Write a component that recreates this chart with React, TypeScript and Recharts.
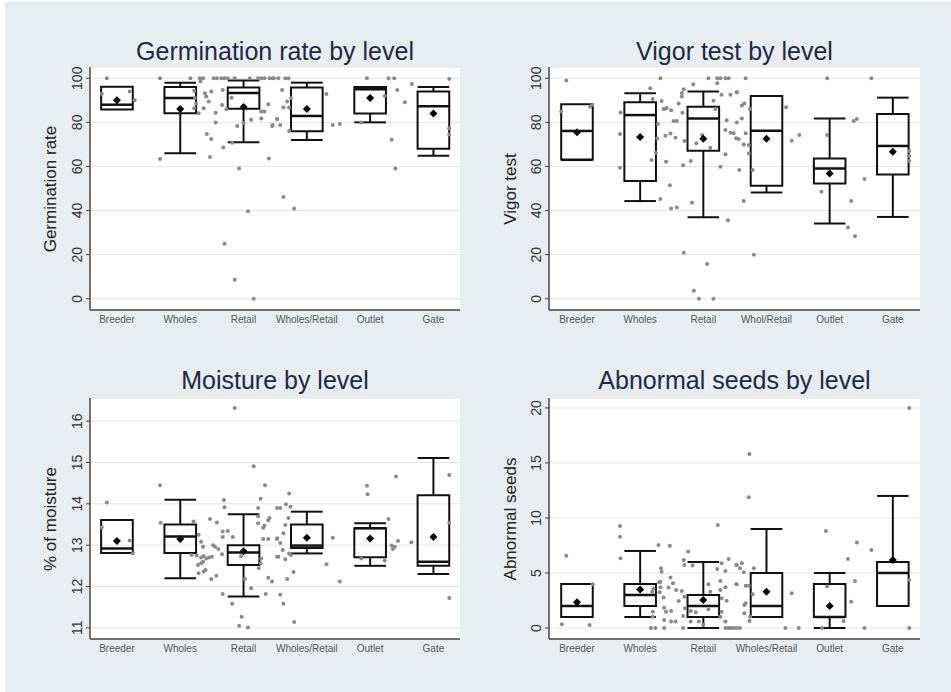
import React from 'react';
import { ComposedChart, Scatter, XAxis, YAxis, CartesianGrid, ReferenceArea, ReferenceLine } from 'recharts';

// category labels
const levels = ['Breeder', 'Wholes', 'Retail', 'Wholes/Retail', 'Outlet', 'Gate'];
const levelsVigor = ['Breeder', 'Wholes', 'Retail', 'Whol/Retail', 'Outlet', 'Gate'];

// Germination rate: box stats per level
const germLo = [85.8, 66, 71, 72, 80, 64.8];
const germQ1 = [85.8, 84.1, 86.2, 76, 84, 68];
const germMed = [88, 91, 93.3, 82.9, 95, 87.3];
const germQ3 = [96.1, 96, 95.8, 95.8, 96, 94];
const germHi = [96.1, 98, 99, 98, 96, 96];
const germMean = [90, 86, 87, 86, 91, 84];
// jittered observations [level position, value]
const germPoints = [
  [0.84, 100], [0.76, 93], [1.28, 90], [1.2, 94],
  [1.68, 100], [1.68, 63.4], [2.16, 100], [2.31, 100], [2.36, 100], [2.22, 94.3], [2.23, 91], [2.25, 88.5],
  [2.22, 86.4], [2.32, 98.5], [2.39, 93.2], [2.41, 91.7], [2.45, 89.4], [2.49, 94], [2.37, 86.4], [2.29, 84.1],
  [2.56, 84.4], [2.56, 79.9], [2.42, 74.7], [2.49, 72.4], [2.47, 64.3],
  [2.53, 100], [2.58, 100], [2.65, 100], [2.7, 100], [2.75, 100], [2.86, 100], [3.1, 100], [3.23, 100],
  [3.28, 100], [3.33, 100], [3.41, 100], [3.46, 100],
  [2.67, 94.7], [2.66, 87.9], [2.73, 85.9], [2.81, 91.1], [2.9, 78.4], [3.0, 79.6], [3.12, 81.2], [3.28, 84.9],
  [3.33, 84.9], [3.28, 81.8], [3.39, 88.2], [3.45, 78.4], [3.53, 81.5], [2.68, 68.6], [2.82, 70.8], [2.93, 59.1],
  [3.07, 39.7], [2.7, 25], [2.86, 8.6], [3.16, 0], [3.4, 63.6],
  [3.48, 100], [3.55, 100], [3.66, 100], [3.71, 100], [3.61, 94.7], [3.69, 89.4], [3.63, 86.7], [3.72, 86.7],
  [3.53, 81.4], [3.58, 78.8], [3.46, 78.8], [3.75, 91], [3.72, 76.1], [4.31, 92.9], [4.41, 78.8], [4.52, 79.3],
  [3.63, 46.2], [3.8, 40.9],
  [4.95, 100], [5.29, 100], [5.38, 100], [4.86, 79.9], [5.23, 92], [5.43, 94.7], [5.66, 97.4], [5.55, 89.1],
  [5.34, 72.1], [5.4, 59.1],
  [6.25, 99.7], [6.25, 77.3], [6.25, 74.5],
];

// Vigor test
const vigorLo = [62.9, 44.3, 37, 48.2, 34.1, 37.1];
const vigorQ1 = [63.2, 53.4, 67.1, 51.2, 52.3, 56.4];
const vigorMed = [76.1, 83.3, 81.8, 76.2, 59.1, 69.3];
const vigorQ3 = [88.2, 89.1, 87.1, 92, 63.6, 83.8];
const vigorHi = [88.2, 93.2, 94, 92, 81.8, 91.2];
const vigorMean = [75.5, 73.3, 72.6, 72.6, 56.8, 66.7];
const vigorPoints = [
  [0.83, 99], [0.75, 84.9], [1.21, 87.1], [1.24, 87.9],
  [1.69, 84.5], [1.68, 74.7], [1.68, 59.4], [2.16, 95.5], [2.2, 90.6], [2.32, 100], [2.34, 89.7], [2.39, 86],
  [2.37, 86], [2.42, 86.5], [2.49, 85.5], [2.28, 79.3], [2.27, 72.7], [2.25, 66.2], [2.18, 62.9], [2.4, 73.9],
  [2.48, 74.9], [2.56, 73], [2.41, 62.1], [2.47, 51.5], [2.32, 45.2], [2.49, 40.9], [2.58, 41.4],
  [2.53, 80.6], [2.58, 80.6], [2.61, 88.6], [2.66, 93.3], [2.66, 91.7], [2.69, 95], [2.67, 84.4], [2.7, 71.5],
  [2.68, 60.6], [2.8, 62.5], [2.82, 43.5], [2.84, 97.3], [3.08, 100], [3.22, 100], [3.27, 100], [3.35, 100],
  [3.4, 100], [3.22, 97.7], [3.29, 92.5], [3.43, 92.5], [3.53, 93.6], [3.16, 89.8], [3.19, 86], [3.37, 81],
  [3.43, 75.3], [3.35, 76.5], [3.52, 72.8], [2.89, 70.5], [2.98, 74.3], [3.11, 68.5], [3.35, 65.5], [3.27, 59.9],
  [3.39, 35.6], [2.69, 20.9], [3.06, 15.8], [2.85, 3.6], [2.93, 0], [3.16, 0],
  [3.67, 100], [3.53, 93.6], [3.65, 88.6], [3.61, 87.6], [3.74, 86], [3.53, 79.9], [3.61, 81.8], [3.67, 75],
  [3.48, 75], [3.56, 72.4], [3.64, 70], [3.72, 69.7], [3.72, 65.9], [3.57, 58.4], [3.78, 58.4], [3.64, 44.3],
  [3.8, 20], [4.31, 86.8], [4.4, 71.7], [4.52, 74.3],
  [4.96, 100], [4.96, 74.3], [4.87, 48.5], [5.38, 80.6], [5.43, 81.5], [5.55, 54.3], [5.34, 44.3], [5.29, 32.3],
  [5.4, 28.4],
  [5.66, 100], [6.26, 67], [6.26, 64.7], [6.26, 62.5],
];

// Moisture
const moistLo = [12.81, 12.2, 11.76, 12.8, 12.5, 12.3];
const moistQ1 = [12.81, 12.81, 12.52, 12.93, 12.71, 12.5];
const moistMed = [12.92, 13.21, 12.82, 12.99, 13.41, 12.6];
const moistQ3 = [13.61, 13.5, 13.0, 13.5, 13.41, 14.21];
const moistHi = [13.61, 14.1, 13.75, 13.81, 13.53, 15.11];
const moistMean = [13.1, 13.15, 12.85, 13.18, 13.16, 13.2];
const moistPoints = [
  [0.84, 14.03], [0.76, 13.43], [1.2, 13.11], [1.25, 12.8],
  [1.68, 14.45], [1.69, 13.54], [2.21, 13.57], [2.29, 13.25], [2.33, 13.08], [2.36, 12.96], [2.18, 12.76],
  [2.26, 12.75], [2.33, 12.7], [2.37, 12.74], [2.41, 12.68], [2.45, 12.7], [2.5, 12.72], [2.28, 12.52],
  [2.33, 12.56], [2.36, 12.6], [2.29, 12.32], [2.37, 12.36], [2.4, 12.4], [2.49, 12.18], [2.57, 12.26],
  [2.47, 13.63], [2.58, 13.55], [2.52, 13.0], [2.55, 12.96], [2.6, 12.91],
  [2.69, 14.09], [2.7, 13.92], [2.67, 13.33], [2.67, 13.2], [2.75, 13.34], [2.83, 13.2], [2.66, 12.78],
  [2.67, 11.82], [2.82, 11.58], [2.97, 11.27], [2.93, 11.05], [3.07, 11.01], [2.86, 16.32], [3.16, 14.91],
  [3.34, 14.45], [3.27, 14.12], [3.23, 13.9], [3.41, 13.66], [3.39, 13.6], [3.23, 13.7], [3.23, 13.53],
  [3.31, 13.42], [3.33, 13.47], [3.31, 13.15], [3.39, 13.15], [3.53, 13.15], [3.28, 12.68], [3.27, 12.56],
  [3.24, 12.44], [3.39, 12.21], [3.45, 12.12], [3.53, 12.72], [3.53, 13.9], [3.12, 11.96], [3.35, 11.82],
  [3.02, 12.18], [2.96, 12.73],
  [3.58, 13.9], [3.67, 13.99], [3.74, 13.93], [3.72, 14.25], [3.66, 13.49], [3.63, 13.29], [3.71, 13.66],
  [3.53, 13.17], [3.58, 13.05], [3.62, 12.88], [3.55, 12.72], [3.66, 12.66], [3.72, 12.8], [3.75, 12.76],
  [3.79, 12.35], [3.69, 12.18], [3.58, 11.8], [3.63, 11.58], [3.8, 11.14], [4.41, 13.18], [4.31, 12.54],
  [4.52, 12.12],
  [4.95, 14.44], [4.96, 14.23], [4.86, 12.68], [5.23, 12.63], [5.29, 13.63], [5.34, 12.99], [5.36, 12.91],
  [5.39, 12.96], [5.44, 13.1], [5.65, 13.07], [5.41, 14.66],
  [6.25, 14.7], [6.25, 13.54], [6.25, 11.72],
];

// Abnormal seeds
const abnLo = [1, 1, 0, 1, 0, 2];
const abnQ1 = [1, 2, 1, 1, 1, 2];
const abnMed = [2, 3, 2, 2, 1, 5];
const abnQ3 = [4, 4, 3, 5, 4, 6];
const abnHi = [4, 7, 6, 9, 5, 12];
const abnMean = [2.33, 3.5, 2.54, 3.3, 2.0, 6.17];
const abnPoints = [
  [0.83, 6.57], [0.76, 0.34], [1.2, 0.27], [1.25, 3.97],
  [1.68, 9.27], [1.68, 8.3], [1.69, 6.33], [2.19, 3.3], [2.21, 3.6], [2.2, 1.48], [2.2, 1.03], [2.17, 0],
  [2.24, 0], [2.29, 7.55], [2.33, 5.43], [2.34, 5.12], [2.32, 4.2], [2.3, 4.15], [2.32, 3.7], [2.31, 3.25],
  [2.37, 2.76], [2.38, 1.85], [2.41, 1.48], [2.38, 0.73], [2.38, 0], [2.47, 7.48], [2.48, 4.58], [2.52, 4.06],
  [2.45, 3.67], [2.49, 1.55], [2.49, 0.6], [2.56, 0.6], [2.57, 3.45], [2.66, 3.36], [2.61, 2.45],
  [2.68, 1.09], [2.68, 0], [2.69, 6.18], [2.7, 5.73], [2.76, 6.94], [2.83, 5.67], [2.7, 2.85], [2.71, 1.79],
  [2.8, 1.55], [2.88, 1.42], [2.8, 0.6], [2.93, 0.6], [3.0, 0.3], [3.08, 3.97], [3.11, 3.3], [3.08, 1.7],
  [3.23, 9.36], [3.22, 5.36], [3.29, 5.88], [3.35, 5.18], [3.4, 6.27], [3.52, 5.73], [3.27, 4.27], [3.35, 3.7],
  [3.27, 3.45], [3.29, 2.7], [3.37, 2.48], [3.29, 1.48], [3.27, 1.03], [3.35, 0.6], [3.35, 0], [3.4, 0],
  [3.44, 0], [3.52, 3.97],
  [3.48, 0], [3.53, 0], [3.58, 0], [3.53, 5.73], [3.58, 5.43], [3.61, 5.88], [3.64, 5.06], [3.53, 3.97],
  [3.67, 3.85], [3.72, 3.85], [3.8, 5.43], [3.67, 2.24], [3.65, 2.09], [3.65, 1.33], [3.73, 0.64],
  [3.74, 1.03], [3.78, 3.06], [3.73, 15.8], [3.72, 11.88], [4.3, 0], [4.51, 0], [4.4, 3.15],
  [4.94, 8.82], [4.96, 3.76], [4.88, 0], [5.22, 0.64], [5.29, 6.27], [5.43, 7.76], [5.34, 2.39], [5.4, 4.27],
  [5.55, 0],
  [5.66, 7.09], [6.26, 20], [6.26, 4.36], [6.26, 0],
];

const FONT = '"Liberation Sans", Arial, Helvetica, sans-serif';
const BG = '#e8edf1';
const HALF = 0.25;

const MeanDot = ({ cx, cy }: any) => (
  <path d={`M${cx},${cy - 4}L${cx + 4},${cy}L${cx},${cy + 4}L${cx - 4},${cy}Z`} fill="#000" />
);

const Obs = ({ cx, cy }: any) => <circle cx={cx} cy={cy} r={2} fill="#8a8a8a" />;

interface PanelProps {
  title: string;
  yTitle: string;
  cats: string[];
  lo: number[];
  q1: number[];
  med: number[];
  q3: number[];
  hi: number[];
  mean: number[];
  points: number[][];
  yDomain: [number, number];
  yTicks: number[];
  xDomain: [number, number];
  left: number;
  top: number;
  axisW: number;
  mr: number;
  mt: number;
  mb: number;
  titleTop: number;
  yTitleX: number;
}

const W = 475;
const H = 346;

const Panel = (p: PanelProps) => {
  const pts = p.points.map(([x, y]) => ({ x, y }));
  const means = p.mean.map((m, i) => ({ x: i + 1, y: m }));
  const plotW = W - p.axisW - p.mr;
  const plotMid = p.mt + (H - p.mt - p.mb) / 2;
  const line = { stroke: '#111', strokeWidth: 2, ifOverflow: 'visible' as const };
  return (
    <div style={{ position: 'absolute', left: p.left, top: p.top, width: W, height: H }}>
      <div
        style={{
          position: 'absolute', left: p.axisW, width: plotW, top: p.titleTop, textAlign: 'center',
          fontFamily: FONT, fontSize: 25, lineHeight: '25px', color: '#1d2a47', whiteSpace: 'nowrap',
        }}
      >
        {p.title}
      </div>
      <div
        style={{
          position: 'absolute', left: p.yTitleX, top: plotMid, transform: 'translate(-50%, -50%) rotate(-90deg)',
          fontFamily: FONT, fontSize: 17, lineHeight: '17px', color: '#222', whiteSpace: 'nowrap',
        }}
      >
        {p.yTitle}
      </div>
      <ComposedChart width={W} height={H} margin={{ top: p.mt, right: p.mr, bottom: 0, left: 0 }}>
        <CartesianGrid vertical={false} stroke="#e4e4e4" fill="#fff" />
        <XAxis
          type="number" dataKey="x" domain={p.xDomain} allowDataOverflow ticks={[1, 2, 3, 4, 5, 6]} interval={0}
          tickFormatter={(v: number) => p.cats[v - 1]} height={p.mb} tickLine={false} tickSize={0} tickMargin={6}
          axisLine={{ stroke: '#444', strokeWidth: 1.5 }} tick={{ fontSize: 10, fill: '#555', fontFamily: FONT }}
        />
        <YAxis
          type="number" dataKey="y" domain={p.yDomain} allowDataOverflow ticks={p.yTicks} interval={0}
          width={p.axisW} tickSize={4} tickMargin={9} angle={-90}
          tick={{ fontSize: 14, fill: '#333', fontFamily: FONT, angle: -90, textAnchor: 'middle', verticalAnchor: 'end' }}
          axisLine={{ stroke: '#444', strokeWidth: 1.5 }} tickLine={{ stroke: '#444' }}
        />
        {p.cats.map((_, i) => (
          <ReferenceArea key={`b${i}`} x1={i + 1 - HALF} x2={i + 1 + HALF} y1={p.q1[i]} y2={p.q3[i]}
            fill="none" fillOpacity={0} stroke="#111" strokeWidth={2} strokeOpacity={1} ifOverflow="visible" />
        ))}
        {p.cats.map((_, i) => (
          <ReferenceLine key={`m${i}`} segment={[{ x: i + 1 - HALF, y: p.med[i] }, { x: i + 1 + HALF, y: p.med[i] }]} {...line} strokeWidth={2.5} />
        ))}
        {p.cats.map((_, i) => p.hi[i] > p.q3[i] ? (
          <ReferenceLine key={`uw${i}`} segment={[{ x: i + 1, y: p.q3[i] }, { x: i + 1, y: p.hi[i] }]} {...line} />
        ) : null)}
        {p.cats.map((_, i) => p.hi[i] > p.q3[i] ? (
          <ReferenceLine key={`uc${i}`} segment={[{ x: i + 1 - HALF, y: p.hi[i] }, { x: i + 1 + HALF, y: p.hi[i] }]} {...line} />
        ) : null)}
        {p.cats.map((_, i) => p.lo[i] < p.q1[i] ? (
          <ReferenceLine key={`lw${i}`} segment={[{ x: i + 1, y: p.lo[i] }, { x: i + 1, y: p.q1[i] }]} {...line} />
        ) : null)}
        {p.cats.map((_, i) => p.lo[i] < p.q1[i] ? (
          <ReferenceLine key={`lc${i}`} segment={[{ x: i + 1 - HALF, y: p.lo[i] }, { x: i + 1 + HALF, y: p.lo[i] }]} {...line} />
        ) : null)}
        <Scatter data={pts} shape={<Obs />} isAnimationActive={false} />
        <Scatter data={means} shape={<MeanDot />} isAnimationActive={false} />
      </ComposedChart>
    </div>
  );
};

export default function App() {
  return (
    <div style={{ position: 'absolute', left: 0, top: 0, width: 951, height: 692, background: '#fff' }}>
      <div style={{ position: 'absolute', left: 5, top: 2, right: 0, bottom: 0, background: BG }} />
      <Panel
        title="Germination rate by level" yTitle="Germination rate" cats={levels}
        lo={germLo} q1={germQ1} med={germMed} q3={germQ3} hi={germHi} mean={germMean} points={germPoints}
        yDomain={[-5.1, 105.1]} yTicks={[0, 20, 40, 60, 80, 100]} xDomain={[0.574, 6.42]}
        left={0} top={0} axisW={90} mr={15} mt={67} mb={36} titleTop={39} yTitleX={50}
      />
      <Panel
        title="Vigor test by level" yTitle="Vigor test" cats={levelsVigor}
        lo={vigorLo} q1={vigorQ1} med={vigorMed} q3={vigorQ3} hi={vigorHi} mean={vigorMean} points={vigorPoints}
        yDomain={[-5.1, 105.1]} yTicks={[0, 20, 40, 60, 80, 100]} xDomain={[0.557, 6.43]}
        left={475} top={0} axisW={74} mr={30} mt={67} mb={36} titleTop={39} yTitleX={35}
      />
      <Panel
        title="Moisture by level" yTitle="% of moisture" cats={levels}
        lo={moistLo} q1={moistQ1} med={moistMed} q3={moistQ3} hi={moistHi} mean={moistMean} points={moistPoints}
        yDomain={[10.73, 16.56]} yTicks={[11, 12, 13, 14, 15, 16]} xDomain={[0.574, 6.42]}
        left={0} top={346} axisW={90} mr={15} mt={52} mb={53} titleTop={22} yTitleX={50}
      />
      <Panel
        title="Abnormal seeds by level" yTitle="Abnormal seeds" cats={levels}
        lo={abnLo} q1={abnQ1} med={abnMed} q3={abnQ3} hi={abnHi} mean={abnMean} points={abnPoints}
        yDomain={[-1.0, 20.9]} yTicks={[0, 5, 10, 15, 20]} xDomain={[0.557, 6.43]}
        left={475} top={346} axisW={74} mr={30} mt={52} mb={53} titleTop={22} yTitleX={35}
      />
    </div>
  );
}
